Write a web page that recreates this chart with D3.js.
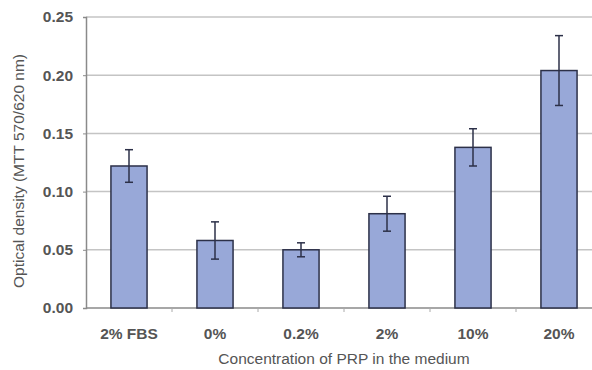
<!DOCTYPE html>
<html>
<head>
<meta charset="utf-8">
<script src="https://cdn.jsdelivr.net/npm/d3@7"></script>
<style>
  body { margin: 0; background: #fff; }
  text { font-family: "Liberation Sans", Arial, sans-serif; }
</style>
</head>
<body>
<div id="chart"></div>
<script>
const categories = ["2% FBS", "0%", "0.2%", "2%", "10%", "20%"];
const means = [0.122, 0.058, 0.050, 0.081, 0.138, 0.204];
const errors = [0.014, 0.016, 0.006, 0.015, 0.016, 0.030];
const yTicks = [0, 0.05, 0.10, 0.15, 0.20, 0.25];

const WIDTH = 592, HEIGHT = 370;
const MARGIN = { top: 17, left: 86, bottom: 62, right: -10 };

const svg = d3.select("#chart")
    .append("svg")
    .attr("width", WIDTH)
    .attr("height", HEIGHT);

const x = d3.scaleBand()
    .domain(categories)
    .range([MARGIN.left, WIDTH - MARGIN.right])
    .paddingInner(0.58)
    .paddingOuter(0.29);

const y = d3.scaleLinear()
    .domain([0, 0.25])
    .range([HEIGHT - MARGIN.bottom, MARGIN.top]);

// gridlines
svg.append("g")
    .selectAll("line")
    .data(yTicks.slice(1))
    .enter().append("line")
    .attr("x1", MARGIN.left)
    .attr("x2", WIDTH - MARGIN.right)
    .attr("y1", d => y(d))
    .attr("y2", d => y(d))
    .style("stroke", "#c4c4c4")
    .style("stroke-width", 1.5);

// y axis
const yAxis = svg.append("g")
    .attr("transform", `translate(${MARGIN.left},0)`)
    .call(d3.axisLeft(y).tickValues(yTicks).tickFormat(d3.format(".2f")).tickSize(3).tickPadding(10));
yAxis.select(".domain").style("stroke", "#8a8a8a").style("stroke-width", 1.5);
yAxis.selectAll(".tick line").style("stroke", "#8a8a8a");
yAxis.selectAll("text")
    .style("font-size", "15.5px")
    .style("font-weight", "bold")
    .style("fill", "#555");

// x axis, ticks on band boundaries
const xAxisG = svg.append("g")
    .attr("transform", `translate(0,${y(0)})`);
xAxisG.append("line")
    .attr("x1", MARGIN.left)
    .attr("x2", WIDTH - MARGIN.right)
    .style("stroke", "#8a8a8a")
    .style("stroke-width", 1.5);
xAxisG.selectAll(".bnd")
    .data(categories.slice(1))
    .enter().append("line")
    .attr("x1", d => x(d) - x.step() * x.paddingInner() / 2)
    .attr("x2", d => x(d) - x.step() * x.paddingInner() / 2)
    .attr("y1", 0)
    .attr("y2", 4)
    .style("stroke", "#aaa");
xAxisG.selectAll(".lbl")
    .data(categories)
    .enter().append("text")
    .attr("x", d => x(d) + x.bandwidth() / 2)
    .attr("y", 31)
    .attr("text-anchor", "middle")
    .style("font-size", "15.5px")
    .style("font-weight", "bold")
    .style("fill", "#555")
    .text(d => d);

// bars
svg.append("g")
    .selectAll("rect")
    .data(means)
    .enter().append("rect")
    .attr("x", (d, i) => x(categories[i]))
    .attr("width", x.bandwidth())
    .attr("y", d => y(d))
    .attr("height", d => y(0) - y(d))
    .attr("fill", "#98a8d8")
    .style("stroke", "#2c3048")
    .style("stroke-width", 1.5);

// error bars
const err = svg.append("g")
    .selectAll("g")
    .data(means)
    .enter().append("g")
    .style("stroke", "#2c3048")
    .style("stroke-width", 1.5);
err.append("line")
    .attr("x1", (d, i) => x(categories[i]) + x.bandwidth() / 2)
    .attr("x2", (d, i) => x(categories[i]) + x.bandwidth() / 2)
    .attr("y1", (d, i) => y(d + errors[i]))
    .attr("y2", (d, i) => y(d - errors[i]));
err.append("line")
    .attr("x1", (d, i) => x(categories[i]) + x.bandwidth() / 2 - 4)
    .attr("x2", (d, i) => x(categories[i]) + x.bandwidth() / 2 + 4)
    .attr("y1", (d, i) => y(d + errors[i]))
    .attr("y2", (d, i) => y(d + errors[i]));
err.append("line")
    .attr("x1", (d, i) => x(categories[i]) + x.bandwidth() / 2 - 4)
    .attr("x2", (d, i) => x(categories[i]) + x.bandwidth() / 2 + 4)
    .attr("y1", (d, i) => y(d - errors[i]))
    .attr("y2", (d, i) => y(d - errors[i]));

// titles
svg.append("text")
    .attr("x", 344)
    .attr("y", 364)
    .attr("text-anchor", "middle")
    .style("font-size", "15.5px")
    .style("fill", "#555")
    .text("Concentration of PRP in the medium");

svg.append("text")
    .attr("transform", "translate(24,171) rotate(-90)")
    .attr("text-anchor", "middle")
    .style("font-size", "15.5px")
    .style("fill", "#555")
    .text("Optical density (MTT 570/620 nm)");
</script>
</body>
</html>
